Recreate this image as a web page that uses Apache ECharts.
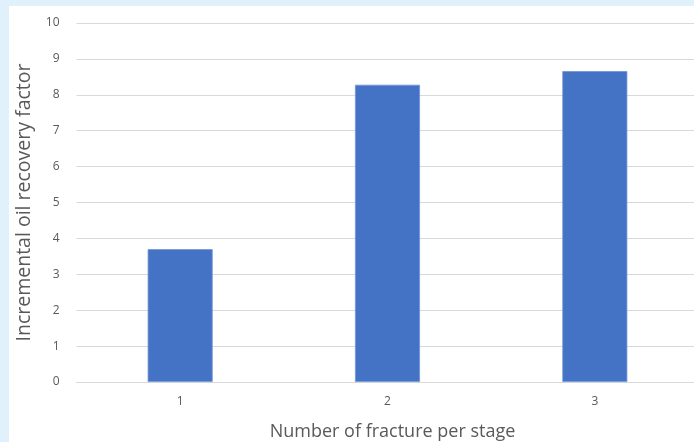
<!DOCTYPE html>
<html>
<head>
<meta charset="utf-8">
<script src="https://cdn.jsdelivr.net/npm/echarts@6/dist/echarts.min.js"></script>
<style>
html,body{margin:0;padding:0;background:#e0f1fb;width:694px;height:442px;overflow:hidden;position:relative;}
#chart{position:absolute;left:9px;top:6px;width:700px;height:436px;background:#ffffff;}
</style>
</head>
<body>
<div id="chart"></div>
<script>
const categories = ['1', '2', '3'];
const recoveryFactor = [3.7, 8.28, 8.66];
const yTicks = [0, 10, 1];

const chart = echarts.init(document.getElementById('chart'));
chart.setOption({
  animation: false,
  backgroundColor: '#ffffff',
  textStyle: { fontFamily: 'Open Sans' },
  grid: { left: 67.5, top: 17, bottom: 60, width: 622, containLabel: false, outerBoundsMode: 'none' },
  xAxis: {
    type: 'category',
    data: categories,
    name: 'Number of fracture per stage',
    nameLocation: 'middle',
    nameGap: 41,
    nameTextStyle: { fontSize: 18, color: '#595959', fontFamily: 'Open Sans', padding: [0, 0, 0, 10] },
    axisLine: { lineStyle: { color: '#d9d9d9', width: 1 } },
    axisTick: { show: false },
    axisLabel: { color: '#595959', fontSize: 12, margin: 14 }
  },
  yAxis: {
    type: 'value',
    min: yTicks[0], max: yTicks[1], interval: yTicks[2],
    name: 'Incremental oil recovery factor',
    nameLocation: 'middle',
    nameGap: 41.5,
    nameTextStyle: { fontSize: 19.5, color: '#595959', fontFamily: 'Open Sans' },
    axisLine: { show: false },
    axisTick: { show: false },
    axisLabel: { color: '#595959', fontSize: 12, margin: 17 },
    splitLine: { lineStyle: { color: '#d9d9d9', width: 1 } }
  },
  series: [{
    type: 'bar',
    data: recoveryFactor,
    barWidth: 65,
    itemStyle: { color: '#4472c4', borderColor: '#6f94d6', borderWidth: 0.8 }
  }]
});
</script>
</body>
</html>
